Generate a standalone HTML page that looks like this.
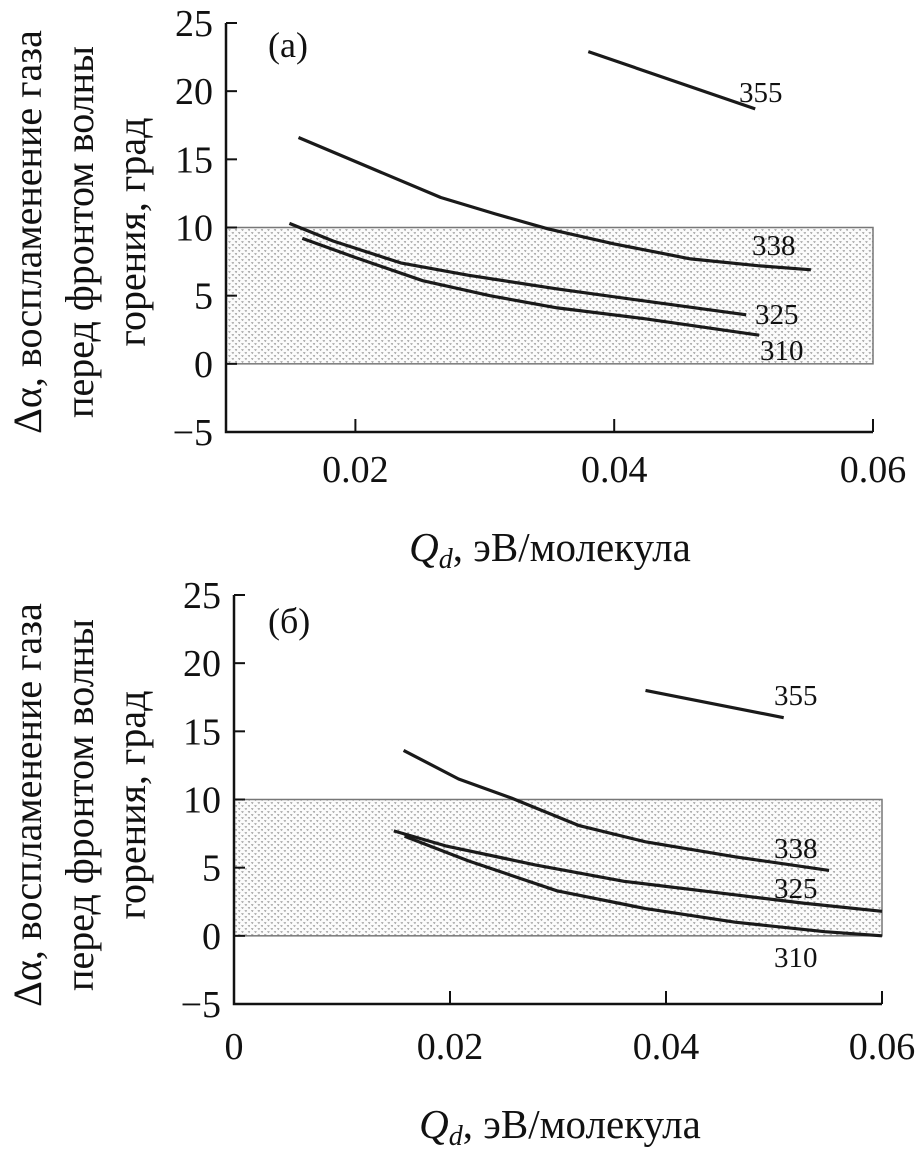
<!DOCTYPE html>
<html><head><meta charset="utf-8"><style>
html,body{margin:0;padding:0;background:#fff;}
svg{display:block;font-family:"Liberation Serif","DejaVu Serif",serif;}
</style></head><body>
<svg id="chart" width="919" height="1155" viewBox="0 0 919 1155" xmlns="http://www.w3.org/2000/svg">
<defs>
<pattern id="dots" width="6.5" height="6" patternUnits="userSpaceOnUse">
<rect width="6.5" height="6" fill="#fbfbfb"/>
<path d="M1 1.5 l1.2 0.8 l0.6 -1" stroke="#8a8a8a" stroke-width="0.9" fill="none"/>
<path d="M4.3 4.5 l1.2 0.8 l0.6 -1" stroke="#8a8a8a" stroke-width="0.9" fill="none"/>
</pattern>
</defs>
</svg>
<script>
var NS='http://www.w3.org/2000/svg';
var svg=document.getElementById('chart');
// Data
var seriesNames=['355','338','325','310'];
var yTicks=[25,20,15,10,5,0,-5];
var xTicksA=[0.02,0.04,0.06];
var xTicksB=[0,0.02,0.04,0.06];
var a355x=[0.038,0.0509]; var a355y=[22.9,18.7];
var a338x=[0.0156,0.0211,0.0266,0.0308,0.0349,0.040,0.0459,0.0511,0.0552];
var a338y=[16.6,14.4,12.2,11.0,9.9,8.8,7.7,7.2,6.9];
var a325x=[0.0149,0.0183,0.0235,0.0287,0.0356,0.0424,0.0502];
var a325y=[10.3,9.0,7.4,6.5,5.5,4.6,3.6];
var a310x=[0.0159,0.020,0.0252,0.0304,0.0356,0.0424,0.0512];
var a310y=[9.2,7.8,6.1,5.0,4.1,3.3,2.1];
var b355x=[0.0381,0.0509]; var b355y=[18.0,16.0];
var b338x=[0.0157,0.0208,0.0257,0.0319,0.0381,0.0464,0.0551];
var b338y=[13.6,11.5,10.1,8.1,6.9,5.8,4.8];
var b325x=[0.0148,0.0196,0.0279,0.0361,0.0444,0.0527,0.060];
var b325y=[7.7,6.6,5.2,4.0,3.2,2.4,1.8];
var b310x=[0.0158,0.0217,0.0299,0.0381,0.0464,0.0547,0.060];
var b310y=[7.3,5.5,3.3,2.0,1.0,0.3,0.0];
var zoneRange=[0,10];

function el(tag,attrs,parent){var e=document.createElementNS(NS,tag);for(var k in attrs)e.setAttribute(k,attrs[k]);(parent||svg).appendChild(e);return e;}

function panel(cfg){
  var g=el('g',{});
  
  
  function X(v){return cfg.x0+(v-cfg.xmin)/(cfg.xmax-cfg.xmin)*(cfg.x1-cfg.x0);}
  function Y(v){return cfg.y0-(v-(-5))/30*(cfg.y0-cfg.y1);}
  var z=el('rect',{x:X(cfg.xmin),y:Y(zoneRange[1]),width:X(cfg.xmax)-X(cfg.xmin),height:Y(zoneRange[0])-Y(zoneRange[1]),fill:'url(#dots)',stroke:'#777','stroke-width':1.5},g);
  
  
  var ax=el('path',{d:'M'+X(cfg.xmin)+' '+Y(25)+' L'+X(cfg.xmin)+' '+Y(-5)+' L'+X(cfg.xmax)+' '+Y(-5),stroke:'#111','stroke-width':2.5,fill:'none'},g);
  
  
  yTicks.forEach(function(t){
    el('line',{x1:X(cfg.xmin),x2:X(cfg.xmin)+11,y1:Y(t),y2:Y(t),stroke:'#111','stroke-width':2},g);
    var tx=el('text',{x:cfg.x0-13,y:Y(t)+13,'text-anchor':'end','font-size':38,fill:'#111'},g);
    tx.textContent=(t<0?'\u2212'+(-t):String(t));
    
    
  });
  cfg.xt.forEach(function(t){
    if(t>cfg.xmin) el('line',{x1:X(t),x2:X(t),y1:Y(-5),y2:Y(-5)-13,stroke:'#111','stroke-width':2},g);
    var tx=el('text',{x:X(t),y:cfg.xtY,'text-anchor':'middle','font-size':38,fill:'#111'},g);
    tx.textContent=(t===0?'0':t.toFixed(2));
    
    
  });
  cfg.series.forEach(function(s,i){
    var d=s[0].map(function(v,j){return (j?'L':'M')+X(v).toFixed(1)+' '+Y(s[1][j]).toFixed(1);}).join(' ');
    var p=el('path',{d:d,stroke:'#1a1a1a','stroke-width':3.2,fill:'none','stroke-linejoin':'round'},g);
    
    
    var lb=el('text',{x:cfg.labels[i][0],y:cfg.labels[i][1],'font-size':29,fill:'#111'},g);
    lb.textContent=seriesNames[i];
    
    
  });
  var pl=el('text',{x:cfg.plabel[0],y:cfg.plabel[1],'font-size':36,fill:'#111'},g);
  pl.textContent=cfg.ptext;
  
  
  var xt=el('text',{x:cfg.titleX,y:cfg.titleY,'text-anchor':'middle','font-size':41,fill:'#111'},g);
  xt.innerHTML='<tspan font-style="italic">Q</tspan><tspan font-style="italic" font-size="28" dy="7">d</tspan><tspan dy="-7">, эВ/молекула</tspan>';
  
  
  var yt=el('text',{transform:'translate(0,'+cfg.ycenter+') rotate(-90)','text-anchor':'middle','font-size':40,fill:'#111'},g);
  yt.innerHTML='<tspan x="0" y="41">Δα, воспламенение газа</tspan><tspan x="0" y="93">перед фронтом волны</tspan><tspan x="0" y="145">горения, град</tspan>';
  
  
}

panel({name:'panel-a',x0:226,x1:873,xmin:0.01,xmax:0.06,y0:432,y1:23,xt:xTicksA,xtY:482,titleX:550,titleY:561,ycenter:232,
  ptext:'(a)',plabel:[268,57],
  series:[[a355x,a355y],[a338x,a338y],[a325x,a325y],[a310x,a310y]],
  labels:[[739,102],[752,255],[755,324],[760,360]]});
panel({name:'panel-b',x0:234,x1:882,xmin:0,xmax:0.06,y0:1004,y1:595,xt:xTicksB,xtY:1059,titleX:560,titleY:1138,ycenter:805,
  ptext:'(б)',plabel:[268,633],
  series:[[b355x,b355y],[b338x,b338y],[b325x,b325y],[b310x,b310y]],
  labels:[[774,705],[774,858],[774,898],[774,967]]});
</script>
</body></html>
